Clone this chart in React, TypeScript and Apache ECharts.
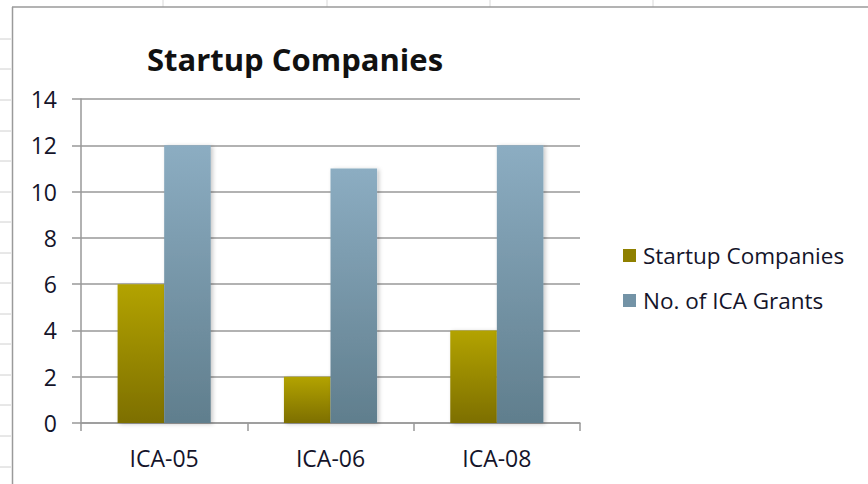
import React, { useEffect, useRef } from "react";
import * as echarts from "echarts";

const categories = ["ICA-05", "ICA-06", "ICA-08"];
const startupCompanies = [6, 2, 4];
const icaGrants = [12, 11, 12];
const seriesNames = ["Startup Companies", "No. of ICA Grants"];
const chartTitle = "Startup Companies";

const FONT = "'Open Sans', 'Noto Sans', sans-serif";
const TEXT = "#14142a";

export default function App() {
  const ref = useRef<HTMLDivElement>(null);
  useEffect(() => {
    if (!ref.current) return;
    const chart = echarts.init(ref.current, undefined, { renderer: "svg" });
    const colLines = [163, 327, 490, 653].map((x) => ({
      type: "line",
      shape: { x1: x, y1: 0, x2: x, y2: 7 },
      style: { stroke: "#d8d8d8", lineWidth: 1 },
      silent: true,
    }));
    const rowTicks = [39, 69, 100, 131, 161, 192, 222, 253, 283, 314, 344, 375, 405, 436, 467].map((y) => ({
      type: "line",
      shape: { x1: 0, y1: y, x2: 11, y2: y },
      style: { stroke: "#d0d0d0", lineWidth: 1 },
      silent: true,
    }));
    const barStyle = (top: string, bottom: string) => ({
      color: new echarts.graphic.LinearGradient(0, 0, 0, 1, [
        { offset: 0, color: top },
        { offset: 1, color: bottom },
      ]),
      shadowColor: "rgba(0,0,0,0.22)",
      shadowBlur: 4,
      shadowOffsetX: 2,
      shadowOffsetY: 1,
    });
    chart.setOption({
      animation: false,
      backgroundColor: "#ffffff",
      title: {
        text: chartTitle,
        left: 290,
        top: 38,
        textAlign: "center",
        textStyle: { fontFamily: FONT, fontSize: 31, fontWeight: "bold", color: "#111" },
      },
      legend: {
        orient: "vertical",
        left: 618,
        top: 239,
        itemWidth: 13,
        itemHeight: 13,
        itemGap: 22,
        icon: "rect",
        data: [
          { name: seriesNames[0], itemStyle: { color: "#8f8000" } },
          { name: seriesNames[1], itemStyle: { color: "#7393a6" } },
        ],
        textStyle: { fontFamily: FONT, fontSize: 22.5, color: TEXT, padding: [0, 0, 0, 2] },
      },
      grid: { left: 81, right: 288, top: 99, bottom: 61 },
      xAxis: {
        type: "category",
        data: categories,
        axisLine: { lineStyle: { color: "#999", width: 1.5 } },
        axisTick: { show: true, length: 8, lineStyle: { color: "#999", width: 1.5 } },
        axisLabel: { fontFamily: FONT, fontSize: 23, color: TEXT, margin: 23 },
      },
      yAxis: {
        type: "value",
        min: 0,
        max: 14,
        interval: 2,
        axisLine: { show: true, lineStyle: { color: "#999", width: 1.5 } },
        axisTick: { show: true, length: 9, lineStyle: { color: "#999", width: 1.5 } },
        splitLine: { lineStyle: { color: "#999", width: 1.5 } },
        axisLabel: { fontFamily: FONT, fontSize: 23, color: TEXT, margin: 24 },
      },
      series: [
        {
          name: seriesNames[0],
          type: "bar",
          data: startupCompanies,
          barGap: "0%",
          barCategoryGap: "44%",
          itemStyle: barStyle("#b3a300", "#7d6f00"),
        },
        {
          name: seriesNames[1],
          type: "bar",
          data: icaGrants,
          barGap: "0%",
          barCategoryGap: "44%",
          itemStyle: barStyle("#8cadc2", "#607e8d"),
        },
      ],
      graphic: [
        ...colLines,
        ...rowTicks,
        {
          type: "line",
          shape: { x1: 12, y1: 7, x2: 868, y2: 7 },
          style: { stroke: "#9a9a9a", lineWidth: 1.5 },
          silent: true,
        },
        {
          type: "line",
          shape: { x1: 12.5, y1: 7, x2: 12.5, y2: 484 },
          style: { stroke: "#9a9a9a", lineWidth: 1.5 },
          silent: true,
        },
      ],
    });
    return () => chart.dispose();
  }, []);
  return <div ref={ref} style={{ position: "fixed", left: 0, top: 0, width: 868, height: 484 }} />;
}
